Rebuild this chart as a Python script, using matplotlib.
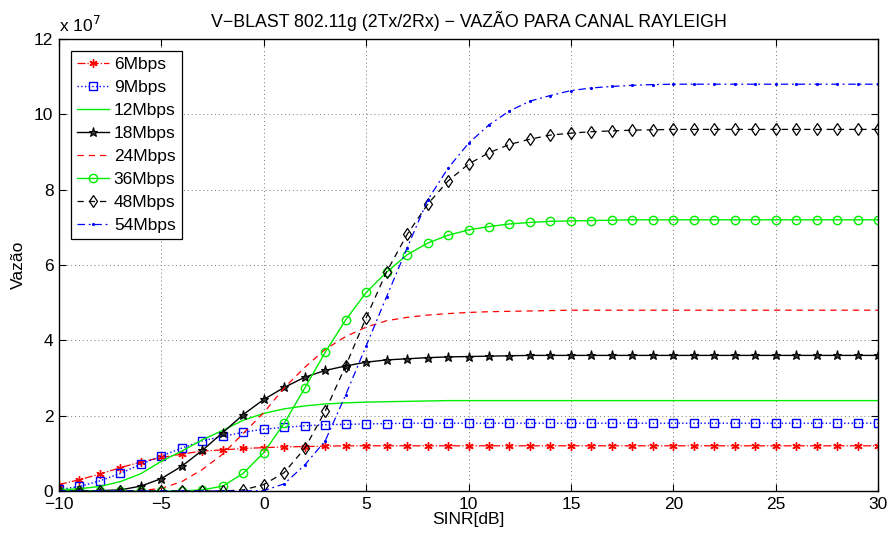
import matplotlib
matplotlib.use("Agg")
import matplotlib.pyplot as plt
from matplotlib.ticker import FuncFormatter

plt.rcParams['font.family'] = ['Liberation Sans', 'DejaVu Sans']
plt.rcParams['axes.unicode_minus'] = True

SCALE = 1e7
sinr = list(range(-10, 31))

mbps6 = [0.17, 0.30, 0.45, 0.62, 0.77, 0.89, 0.98, 1.06, 1.09, 1.13, 1.15, 1.17, 1.18, 1.19] + [1.2] * 27
mbps9 = [0.04, 0.12, 0.27, 0.47, 0.71, 0.93, 1.14, 1.33, 1.45, 1.56, 1.64, 1.69, 1.73, 1.76, 1.77, 1.78, 1.79] + [1.8] * 24
mbps12 = [0.03, 0.06, 0.12, 0.25, 0.46, 0.79, 1.06, 1.36, 1.61, 1.88, 2.06, 2.18, 2.26, 2.31, 2.34, 2.36, 2.37, 2.38, 2.39] + [2.4] * 22
mbps18 = [0.0, 0.0, 0.01, 0.03, 0.13, 0.33, 0.66, 1.08, 1.55, 2.03, 2.43, 2.75, 3.02, 3.20, 3.32, 3.42, 3.48, 3.51, 3.54, 3.56, 3.57, 3.58, 3.59] + [3.6] * 18
mbps24 = [0.0, 0.0, 0.0, 0.0, 0.01, 0.07, 0.25, 0.57, 0.98, 1.53, 2.08, 2.74, 3.28, 3.76, 4.10, 4.35, 4.52, 4.61, 4.67, 4.71, 4.74, 4.76, 4.77, 4.78, 4.79] + [4.8] * 16
mbps36 = [0.0] * 7 + [0.03, 0.13, 0.47, 1.02, 1.80, 2.73, 3.68, 4.54, 5.27, 5.81, 6.27, 6.58, 6.79, 6.93, 7.02, 7.09, 7.13, 7.16, 7.17, 7.18, 7.19] + [7.2] * 13
mbps48 = [0.0] * 9 + [0.03, 0.17, 0.49, 1.13, 2.12, 3.32, 4.60, 5.82, 6.81, 7.61, 8.23, 8.68, 8.98, 9.20, 9.34, 9.45, 9.50, 9.54, 9.56, 9.58, 9.59] + [9.6] * 11
mbps54 = [0.0] * 10 + [0.01, 0.19, 0.69, 1.33, 2.55, 3.85, 5.16, 6.45, 7.72, 8.57, 9.23, 9.72, 10.09, 10.35, 10.50, 10.63, 10.70, 10.74, 10.77, 10.79] + [10.8] * 11

labels = ['6Mbps', '9Mbps', '12Mbps', '18Mbps', '24Mbps', '36Mbps', '48Mbps', '54Mbps']
title = 'V\u2212BLAST 802.11g (2Tx/2Rx) \u2212 VAZÃO PARA CANAL RAYLEIGH'

fig = plt.figure(figsize=(8.88, 5.34), dpi=100)
ax = fig.add_axes([59 / 888, 1 - 491 / 534, 819 / 888, 452 / 534])

def Y(v):
    return [a * SCALE for a in v]

ax.plot(sinr, Y(mbps6), color='red', linestyle='-.', marker=(6, 2, 0), ms=6, mew=1, lw=0.9, label=labels[0])
ax.plot(sinr, Y(mbps9), color='blue', linestyle=':', marker='s', ms=5.5, mfc='none', mew=1, lw=1.0, label=labels[1])
ax.plot(sinr, Y(mbps12), color='#00ee00', linestyle='-', lw=1.0, label=labels[2])
ax.plot(sinr, Y(mbps18), color='black', linestyle='-', marker='*', ms=6.5, mfc='#333333', mec='black', mew=0.8, lw=1.0, label=labels[3])
ax.plot(sinr, Y(mbps24), color='red', linestyle=(0, (5, 4)), lw=0.9, label=labels[4])
ax.plot(sinr, Y(mbps36), color='#00ee00', linestyle='-', marker='o', ms=6, mfc='none', mew=1, lw=1.0, label=labels[5])
ax.plot(sinr, Y(mbps48), color='black', linestyle=(0, (5, 4)), marker='d', ms=6, mfc='none', mew=0.9, lw=0.9, label=labels[6])
ax.plot(sinr, Y(mbps54), color='blue', linestyle=(0, (6, 3, 1.5, 3)), marker='.', ms=2.5, lw=0.9, label=labels[7])

ax.set_xlim(-10, 30)
ax.set_ylim(0, 12 * SCALE)
ax.set_xticks(range(-10, 31, 5))
ax.set_yticks([v * SCALE for v in range(0, 13, 2)])
ax.yaxis.set_major_formatter(FuncFormatter(lambda v, p: f"{v / SCALE:g}"))
ax.xaxis.set_major_formatter(FuncFormatter(lambda v, p: f"{v:g}".replace('-', '\u2212')))
ax.tick_params(direction='in', top=True, right=True, length=5, width=0.8, labelsize=12.5)
ax.tick_params(axis='x', pad=4.5)
ax.tick_params(axis='y', pad=4)
ax.grid(True, linestyle=(0, (1, 3)), color='#777777', lw=0.7)
for s in ax.spines.values():
    s.set_linewidth(1.0)

ax.set_xlabel('SINR[dB]', fontsize=12.5, labelpad=0)
ax.set_ylabel('Vazão', fontsize=12.5, labelpad=6)
ax.set_title(title, fontsize=12.8, pad=9)
ax.text(0.0, 1.008, 'x 10$^{7}$', transform=ax.transAxes, fontsize=12.5, ha='left', va='bottom')

leg = ax.legend(loc='upper left', bbox_to_anchor=(0.015, 0.973), fontsize=12.5, frameon=True, fancybox=False,
                edgecolor='black', framealpha=1, handlelength=1.8, handletextpad=0.3, labelspacing=0.45,
                borderpad=0.35, borderaxespad=0)
leg.get_frame().set_linewidth(0.9)

fig.savefig('out.png', dpi=100)
